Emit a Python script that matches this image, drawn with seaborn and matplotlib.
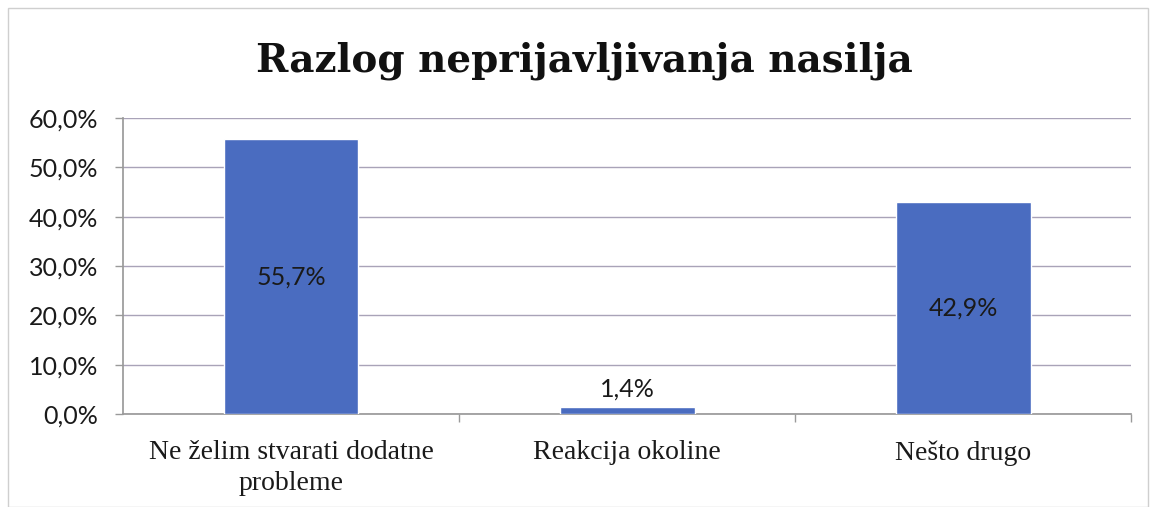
import matplotlib
matplotlib.use("Agg")
import matplotlib.pyplot as plt
import seaborn as sns
import pandas as pd
from matplotlib.patches import Rectangle
from matplotlib.ticker import FuncFormatter, FixedLocator

categories = ["Ne želim stvarati dodatne\nprobleme", "Reakcija okoline", "Nešto drugo"]
values = [55.7, 1.4, 42.9]
value_labels = ["55,7%", "1,4%", "42,9%"]
title = "Razlog neprijavljivanja nasilja"

sns.set_theme(style="white")
plt.rcParams['font.family'] = ['DejaVu Sans']

df = pd.DataFrame({"cat": categories, "val": values})

fig = plt.figure(figsize=(11.51, 5.07), dpi=100)
ax = fig.add_axes([0.107, 0.1834, 0.876, 0.5838])

sns.barplot(data=df, x="cat", y="val", color="#4a6cc0", saturation=1, width=0.40, ax=ax, zorder=3)

ax.set_ylim(0, 60)
ax.set_xlim(-0.5, 2.5)
ax.set_yticks([0, 10, 20, 30, 40, 50, 60])
ax.yaxis.set_major_formatter(FuncFormatter(lambda v, p: f"{v:.1f}%".replace(".", ",")))
ax.grid(axis="y", color="#a9a3b8", linewidth=1.0, zorder=0)
ax.set_axisbelow(True)
ax.set_xlabel("")
ax.set_ylabel("")

for s in ["top", "right"]:
    ax.spines[s].set_visible(False)
ax.spines["left"].set_color("#9a9a9a")
ax.spines["bottom"].set_color("#9a9a9a")

ax.tick_params(axis="y", left=True, length=6, color="#9a9a9a", width=1, pad=12, labelsize=18, labelcolor="#1a1a1a")
for lab in ax.get_yticklabels():
    lab.set_family("Lato")
ax.tick_params(axis="x", bottom=False, pad=13, labelcolor="#1a1a1a")
for lab in ax.get_xticklabels():
    lab.set_family("Liberation Serif")
    lab.set_fontsize(20)
    lab.set_linespacing(1.3)

ax.xaxis.set_minor_locator(FixedLocator([0.5, 1.5, 2.5]))
ax.tick_params(axis="x", which="minor", bottom=True, length=6, color="#9a9a9a", width=1)

for i, (v, lab) in enumerate(zip(values, value_labels)):
    if v > 10:
        ax.text(i, v / 2, lab, ha="center", va="center", fontsize=18, family="Lato", color="#1a1a1a", zorder=4)
    else:
        ax.text(i, v + 1.3, lab, ha="center", va="bottom", fontsize=18, family="Lato", color="#1a1a1a", zorder=4)

fig.text(0.508, 0.88, title, ha="center", va="center", fontsize=28, fontweight="bold",
         family="DejaVu Serif", color="#111111")

fig.patches.append(Rectangle((0.007, 0.0), 0.99, 0.985, transform=fig.transFigure,
                             fill=False, edgecolor="#cfcfcf", linewidth=1))

fig.savefig("out.png", dpi=100)
